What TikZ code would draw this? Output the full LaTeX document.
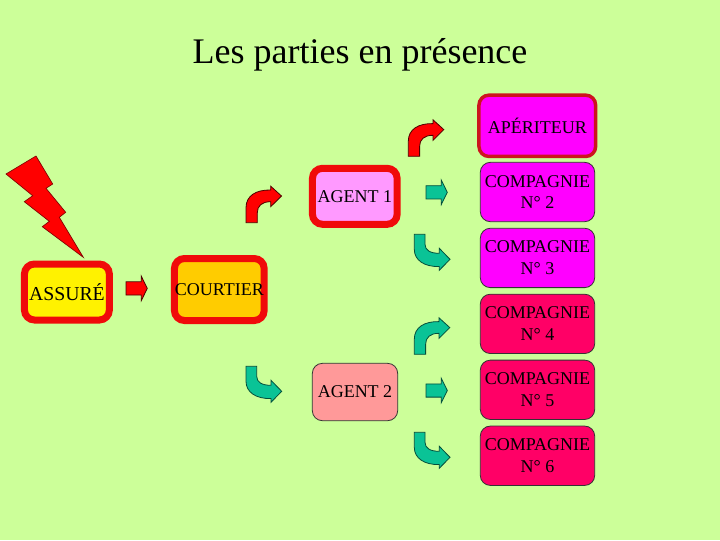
\documentclass[tikz,border=0pt]{standalone}
\usepackage{fontspec}
\setmainfont{Liberation Serif}
\usepackage{xcolor}
\usetikzlibrary{positioning}
\definecolor{pagegreen}{RGB}{204, 255, 153}
\definecolor{alertred}{RGB}{240, 10, 10}
\definecolor{leadred}{RGB}{204, 20, 30}
\definecolor{arrowgreen}{RGB}{10, 195, 150}
\definecolor{courtierfill}{RGB}{255, 204, 0}
\definecolor{agentpink}{RGB}{255, 153, 255}
\definecolor{agentrose}{RGB}{255, 153, 153}
\definecolor{coviolet}{RGB}{255, 0, 255}
\definecolor{cocrimson}{RGB}{255, 0, 102}
\tikzset{
    bentup/.pic={
        \path[pic actions] (0,0) -- (0,-15) .. controls (0,-27) and (10,-33) .. (24.7,-32.7)
            -- (24.7,-36.5) -- (35.5,-26.7) -- (24.7,-16) -- (24.7,-21)
            .. controls (16,-21) and (11.3,-17) .. (11.3,-10) -- (11.3,0) -- cycle;
    },
    bentdown/.pic={
        \path[pic actions] (0,0) -- (0,15) .. controls (0,26) and (10,32.5) .. (25,32.3)
            -- (25,36) -- (35.7,25) -- (25,14) -- (25,19)
            .. controls (16,19) and (10.7,16) .. (10.7,10) -- (10.7,0) -- cycle;
    },
    blockright/.pic={
        \path[pic actions] (0,-6.6) -- (15.3,-6.6) -- (15.3,-12.2) -- (21.3,0)
            -- (15.3,12.2) -- (15.3,6.6) -- (0,6.6) -- cycle;
    }
}
\begin{document}
\begin{tikzpicture}[
    x=0.75pt, y=-0.75pt,
    party/.style={rounded corners=7.5pt, inner sep=0pt, align=center,
                  font=\fontsize{13.5}{16.3}\selectfont, text=black},
    thick box/.style={party, draw=alertred, line width=5.25pt},
    thin box/.style={party, draw=black!80, line width=0.6pt},
    company/.style={thin box, minimum width=85.8pt, minimum height=44.5pt},
    redarrow/.style={fill=red, draw=black!70!red, line width=0.6pt},
    greenarrow/.style={fill=arrowgreen, draw=black!60!arrowgreen, line width=0.6pt}
]
    \useasboundingbox (0,0) rectangle (720,540);
    \fill[pagegreen] (0,0) rectangle (720,540);

    \node[font=\fontsize{27}{32}\selectfont] (title) at (360,54.5) {Les parties en présence};

    % eclair
    \filldraw[fill=red, draw=black!50!red, line width=0.5pt]
        (6,174) -- (36,156) -- (52.7,184) -- (46,188.3) -- (65.7,212.3) -- (59.3,217.3)
        -- (83.3,257.3) -- (42.3,226.7) -- (49.3,221.3) -- (24.3,201.7) -- (32.7,195.7) -- cycle;

    \node[thick box, fill=yellow, minimum width=63.7pt, minimum height=42pt, font=\fontsize{14.8}{17}\selectfont] (assure) at (66.9,292) {ASSURÉ};
    \node[thick box, fill=courtierfill, minimum width=67.3pt, minimum height=46.5pt] (courtier) at (219.3,289.5) {COURTIER};
    \node[thick box, fill=agentpink, minimum width=63.5pt, minimum height=42pt] (agent1) at (354.8,196.3) {AGENT 1};
    \node[thin box, fill=agentrose, minimum width=64pt, minimum height=43pt] (agent2) at (355,392) {AGENT 2};

    \node[party, draw=leadred, line width=2.6pt, fill=coviolet, minimum width=87.5pt, minimum height=46pt] (aperiteur) at (537.3,125.8) {APÉRITEUR};
    \node[company, fill=coviolet] (comp2) at (537.5,192) {COMPAGNIE\\N° 2};
    \node[company, fill=coviolet, below=4.35pt of comp2] (comp3) {COMPAGNIE\\N° 3};
    \node[company, fill=cocrimson, below=4.35pt of comp3] (comp4) {COMPAGNIE\\N° 4};
    \node[company, fill=cocrimson, below=4.35pt of comp4] (comp5) {COMPAGNIE\\N° 5};
    \node[company, fill=cocrimson, below=4.35pt of comp5] (comp6) {COMPAGNIE\\N° 6};

    \pic[redarrow] at (126,288.4) {blockright};
    \pic[redarrow] at (246,222.7) {bentup};
    \pic[redarrow] at (408.3,156.3) {bentup};
    \pic[greenarrow] at (246,366.3) {bentdown};
    \pic[greenarrow] at (426,192.3) {blockright};
    \pic[greenarrow] at (414.3,234.3) {bentdown};
    \pic[greenarrow] at (414.3,354.3) {bentup};
    \pic[greenarrow] at (426,390.5) {blockright};
    \pic[greenarrow] at (414.3,432.3) {bentdown};
\end{tikzpicture}
\end{document}
